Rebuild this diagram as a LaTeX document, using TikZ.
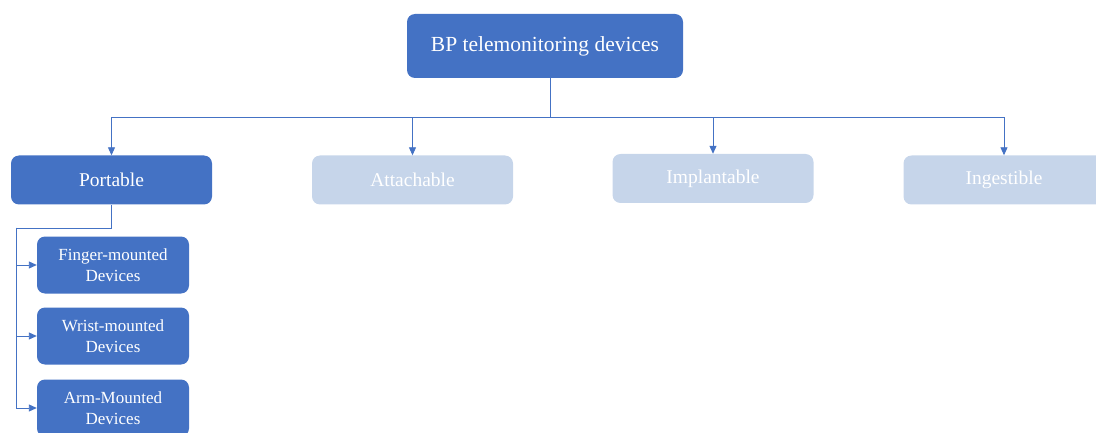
\documentclass[tikz,border=0pt]{standalone}
\usepackage{fontspec}
\setmainfont{Liberation Serif}
\usetikzlibrary{positioning,arrows.meta}

\definecolor{boxblue}{HTML}{4472C4}
\definecolor{paleblue}{HTML}{C6D5EA}

\begin{document}
\begin{tikzpicture}[x=1pt,y=-1pt]
        \tikzstyle{every node}=[rounded corners=8pt, text=white, align=center, inner sep=0pt]
        \tikzstyle{root}=[fill=boxblue, minimum width=276pt, minimum height=64pt, font=\fontsize{21.5}{26}\selectfont]
        \tikzstyle{kind}=[fill=boxblue, minimum width=201pt, minimum height=49pt, font=\fontsize{19.5}{23}\selectfont]
        \tikzstyle{faded}=[kind, fill=paleblue]
        \tikzstyle{device}=[fill=boxblue, minimum width=152pt, minimum height=57pt, font=\fontsize{17}{21.5}\selectfont]
        \tikzstyle{link}=[draw=boxblue, line width=0.9pt, -{Triangle[length=8pt,width=7pt]}]

        \useasboundingbox (0,0) rectangle (1096,433);

        \node[root]   (bp)      at (545,46)      {BP telemonitoring devices};

        \node[kind]   (port)    at (111.5,180)   {Portable};
        \node[faded]  (attach)  at (412.5,180)   {Attachable};
        \node[faded]  (implant) at (713,178.5)   {Implantable};
        \node[faded]  (ingest)  at (1004,180)    {Ingestible};

        \node[device] (finger)  at (113,265)     {Finger-mounted\\Devices};
        \node[device] (wrist)   at (113,336)     {Wrist-mounted\\Devices};
        \node[device] (arm)     at (113,408)     {Arm-Mounted\\Devices};

        % branching points
        \coordinate (split) at (550,117);
        \coordinate (fork)  at (16,228);

        \draw[boxblue, line width=0.9pt] (split |- bp.south) -- (split);
        \foreach \n in {port, attach, implant, ingest}
            \draw[link] (split) -| (\n.north);

        \draw[boxblue, line width=0.9pt] (port.south) |- (fork);
        \foreach \n in {finger, wrist, arm}
            \draw[link] (fork) |- (\n.west);

    \end{tikzpicture}
\end{document}
